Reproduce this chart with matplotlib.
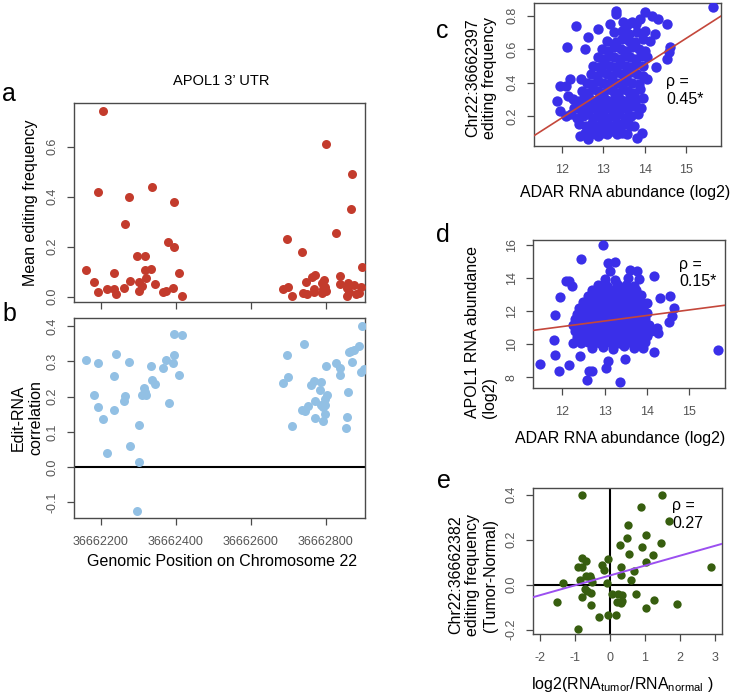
import matplotlib
matplotlib.use("Agg")
import matplotlib.pyplot as plt

plt.rcParams["font.family"] = ["Liberation Sans", "DejaVu Sans"]
plt.rcParams["axes.unicode_minus"] = False

W, H = 734, 695

# ---- panel a: mean editing frequency along APOL1 3' UTR
a_pos = [36662206, 36662194, 36662337, 36662276, 36662396, 36662266, 36662380, 36662395,
         36662298, 36662317, 36662162, 36662317, 36662333, 36662236, 36662408, 36662320,
         36662181, 36662278, 36662301, 36662346, 36662310, 36662192, 36662217, 36662236,
         36662241, 36662263, 36662303, 36662365, 36662374, 36662394, 36662417,
         36662802, 36662869, 36662868, 36662827, 36662696, 36662738, 36662898, 36662771,
         36662763, 36662837, 36662747, 36662795, 36662791, 36662687, 36662699, 36662711,
         36662740, 36662751, 36662770, 36662770, 36662789, 36662794, 36662798, 36662801,
         36662839, 36662860, 36662856, 36662863, 36662858, 36662876, 36662893, 36662889,
         36662882]
a_freq = [0.743, 0.420, 0.440, 0.398, 0.378, 0.290, 0.219, 0.200,
          0.163, 0.163, 0.107, 0.108, 0.112, 0.096, 0.094, 0.076,
          0.060, 0.065, 0.058, 0.052, 0.044, 0.021, 0.032, 0.032,
          0.012, 0.037, 0.025, 0.021, 0.024, 0.037, 0.005,
          0.611, 0.490, 0.350, 0.254, 0.232, 0.179, 0.120, 0.087,
          0.078, 0.085, 0.058, 0.067, 0.056, 0.032, 0.040, 0.005,
          0.015, 0.010, 0.019, 0.030, 0.016, 0.032, 0.040, 0.024,
          0.050, 0.056, 0.035, 0.019, 0.005, 0.048, 0.040, 0.014,
          0.010]

# ---- panel b: edit-RNA correlation
b_pos = [36662162, 36662194, 36662241, 36662275, 36662236, 36662181, 36662192, 36662205,
         36662235, 36662263, 36662266, 36662302, 36662277, 36662217, 36662302, 36662298,
         36662310, 36662316, 36662321, 36662319, 36662333, 36662337, 36662346, 36662365,
         36662373, 36662381, 36662394, 36662395, 36662396, 36662418, 36662408,
         36662685, 36662700, 36662696, 36662741, 36662711, 36662738, 36662745, 36662752,
         36662762, 36662769, 36662788, 36662786, 36662771, 36662772, 36662787, 36662794,
         36662797, 36662803, 36662799, 36662797, 36662792, 36662802, 36662827, 36662838,
         36662837, 36662860, 36662858, 36662855, 36662870, 36662861, 36662867, 36662875,
         36662889, 36662898, 36662895, 36662902]
b_corr = [0.305, 0.296, 0.321, 0.299, 0.259, 0.206, 0.170, 0.136,
          0.163, 0.188, 0.202, 0.120, 0.059, 0.039, 0.015, -0.125,
          0.206, 0.224, 0.206, 0.212, 0.286, 0.248, 0.237, 0.280,
          0.303, 0.181, 0.296, 0.318, 0.379, 0.376, 0.262,
          0.240, 0.255, 0.318, 0.350, 0.118, 0.163, 0.159, 0.173,
          0.232, 0.245, 0.241, 0.219, 0.187, 0.139, 0.175, 0.170,
          0.194, 0.206, 0.175, 0.151, 0.130, 0.286, 0.295, 0.282,
          0.260, 0.214, 0.143, 0.112, 0.297, 0.326, 0.330, 0.331,
          0.343, 0.400, 0.269, 0.279]

# ---- panel c: ADAR abundance vs editing at Chr22:36662397 (estimated from the blob)
c_points = [
    (15.66, 0.85), (13.31, 0.83), (13.31, 0.81), (14.01, 0.82), (14.17, 0.80), (14.33, 0.78),
    (13.89, 0.78), (12.34, 0.74), (13.16, 0.75), (13.48, 0.76), (13.60, 0.75), (13.70, 0.76),
    (13.80, 0.75), (14.53, 0.75), (12.88, 0.72), (14.25, 0.69), (13.56, 0.70), (12.64, 0.67),
    (12.13, 0.61), (12.56, 0.60), (14.61, 0.61), (14.60, 0.58), (14.53, 0.54), (14.27, 0.49),
    (14.06, 0.42), (12.19, 0.42), (12.46, 0.42), (11.94, 0.38), (12.09, 0.38), (11.88, 0.29),
    (11.94, 0.23), (12.15, 0.32), (12.09, 0.20), (12.44, 0.08), (12.64, 0.06), (13.81, 0.07),
    (13.93, 0.10), (13.65, 0.14), (13.04, 0.12),
    (12.55, 0.10), (12.70, 0.09), (12.78, 0.11), (12.88, 0.08), (12.97, 0.10), (13.10, 0.09),
    (13.20, 0.11), (13.32, 0.09), (13.45, 0.10), (13.58, 0.09),
    (12.42, 0.15), (12.58, 0.14), (12.72, 0.16), (12.86, 0.14), (12.96, 0.16), (13.08, 0.15),
    (13.20, 0.14), (13.34, 0.16), (13.48, 0.15), (13.60, 0.16), (13.74, 0.14),
    (12.22, 0.21), (12.36, 0.19), (12.50, 0.20), (12.62, 0.21), (12.76, 0.19), (12.88, 0.20),
    (13.00, 0.21), (13.12, 0.19), (13.24, 0.20), (13.38, 0.21), (13.52, 0.19), (13.66, 0.20),
    (13.84, 0.21),
    (12.30, 0.25), (12.44, 0.24), (12.58, 0.26), (12.70, 0.25), (12.82, 0.24), (12.94, 0.26),
    (13.06, 0.25), (13.18, 0.24), (13.30, 0.26), (13.44, 0.25), (13.58, 0.24), (13.72, 0.26),
    (13.90, 0.25),
    (12.26, 0.30), (12.40, 0.29), (12.54, 0.31), (12.68, 0.30), (12.80, 0.29), (12.92, 0.31),
    (13.04, 0.30), (13.16, 0.29), (13.28, 0.31), (13.40, 0.30), (13.52, 0.29), (13.64, 0.31),
    (13.80, 0.30), (13.96, 0.31),
    (12.48, 0.35), (12.62, 0.34), (12.76, 0.36), (12.88, 0.35), (13.00, 0.34), (13.12, 0.36),
    (13.24, 0.35), (13.36, 0.34), (13.48, 0.36), (13.60, 0.35), (13.74, 0.34), (13.88, 0.36),
    (12.60, 0.40), (12.72, 0.39), (12.86, 0.41), (12.98, 0.40), (13.10, 0.39), (13.22, 0.41),
    (13.34, 0.40), (13.46, 0.39), (13.58, 0.41), (13.70, 0.40), (13.86, 0.39),
    (12.70, 0.45), (12.84, 0.44), (12.96, 0.46), (13.08, 0.45), (13.20, 0.44), (13.32, 0.46),
    (13.44, 0.45), (13.56, 0.44), (13.68, 0.46), (13.82, 0.45), (13.96, 0.44),
    (12.76, 0.50), (12.90, 0.49), (13.04, 0.51), (13.16, 0.50), (13.28, 0.49), (13.40, 0.51),
    (13.54, 0.50), (13.66, 0.49), (13.80, 0.51), (13.96, 0.50),
    (12.86, 0.55), (13.00, 0.54), (13.14, 0.56), (13.26, 0.55), (13.40, 0.54), (13.52, 0.56),
    (13.64, 0.55), (13.78, 0.54), (13.92, 0.56), (14.06, 0.55),
    (12.96, 0.60), (13.12, 0.59), (13.26, 0.61), (13.42, 0.60), (13.56, 0.59), (13.70, 0.61),
    (13.86, 0.60), (14.02, 0.59),
    (13.10, 0.65), (13.30, 0.64), (13.46, 0.66), (13.62, 0.65), (13.76, 0.64), (13.96, 0.66),
    (14.12, 0.65),
    (13.26, 0.70), (13.46, 0.71), (13.62, 0.69), (13.82, 0.70), (14.02, 0.71),
    (12.66, 0.125), (12.92, 0.125), (13.16, 0.125), (13.40, 0.125), (12.48, 0.275),
    (12.74, 0.275), (13.00, 0.275), (13.24, 0.275), (13.50, 0.275), (13.76, 0.275),
]
c_fit = (-1.708, 0.1581)   # intercept, slope

# ---- panel d: ADAR abundance vs APOL1 abundance
d_points = [
    (12.95, 16.00), (12.45, 15.14), (13.09, 14.93), (13.25, 15.00), (13.13, 14.45), (13.59, 14.49),
    (13.77, 14.45), (14.16, 14.13), (12.08, 13.85), (12.16, 13.83), (12.23, 13.55), (14.54, 12.94),
    (14.30, 12.82), (11.94, 12.84), (14.63, 12.18), (14.60, 11.68), (14.52, 11.34), (11.84, 11.78),
    (15.67, 9.67), (11.48, 8.80), (11.80, 10.27), (11.82, 9.37), (11.92, 8.36), (12.17, 8.76),
    (12.59, 7.86), (12.63, 8.40), (12.70, 8.40), (13.03, 8.56), (13.37, 7.70), (13.48, 9.10),
    (13.09, 9.00), (14.16, 9.53), (14.24, 10.97), (14.27, 10.67), (12.43, 9.27), (13.91, 9.77),
    (12.70, 9.75), (12.95, 9.85), (13.20, 9.70), (13.45, 9.90), (13.70, 9.80),
    (12.25, 10.10), (12.45, 10.05), (12.60, 10.15), (12.75, 10.10), (12.90, 10.05), (13.05, 10.15),
    (13.20, 10.10), (13.35, 10.05), (13.50, 10.15), (13.65, 10.10), (13.80, 10.05), (13.95, 10.15),
    (12.35, 10.45), (12.50, 10.40), (12.65, 10.50), (12.80, 10.45), (12.95, 10.40), (13.10, 10.50),
    (13.25, 10.45), (13.40, 10.40), (13.55, 10.50), (13.70, 10.45), (13.85, 10.40), (14.00, 10.50),
    (12.30, 10.80), (12.45, 10.75), (12.60, 10.85), (12.75, 10.80), (12.90, 10.75), (13.05, 10.85),
    (13.20, 10.80), (13.35, 10.75), (13.50, 10.85), (13.65, 10.80), (13.80, 10.75), (13.95, 10.85),
    (14.10, 10.80),
    (12.25, 11.15), (12.40, 11.10), (12.55, 11.20), (12.70, 11.15), (12.85, 11.10), (13.00, 11.20),
    (13.15, 11.15), (13.30, 11.10), (13.45, 11.20), (13.60, 11.15), (13.75, 11.10), (13.90, 11.20),
    (14.05, 11.15),
    (12.30, 11.50), (12.45, 11.45), (12.60, 11.55), (12.75, 11.50), (12.90, 11.45), (13.05, 11.55),
    (13.20, 11.50), (13.35, 11.45), (13.50, 11.55), (13.65, 11.50), (13.80, 11.45), (13.95, 11.55),
    (12.35, 11.85), (12.50, 11.80), (12.65, 11.90), (12.80, 11.85), (12.95, 11.80), (13.10, 11.90),
    (13.25, 11.85), (13.40, 11.80), (13.55, 11.90), (13.70, 11.85), (13.85, 11.80), (14.00, 11.90),
    (12.40, 12.20), (12.55, 12.15), (12.70, 12.25), (12.85, 12.20), (13.00, 12.15), (13.15, 12.25),
    (13.30, 12.20), (13.45, 12.15), (13.60, 12.25), (13.75, 12.20), (13.90, 12.15),
    (12.50, 12.55), (12.65, 12.50), (12.80, 12.60), (12.95, 12.55), (13.10, 12.50), (13.25, 12.60),
    (13.40, 12.55), (13.55, 12.50), (13.70, 12.60), (13.85, 12.55), (14.00, 12.50),
    (12.60, 12.90), (12.80, 12.85), (12.95, 12.95), (13.10, 12.90), (13.25, 12.85), (13.40, 12.95),
    (13.55, 12.90), (13.70, 12.85), (13.85, 12.95),
    (12.70, 13.25), (12.90, 13.20), (13.05, 13.30), (13.20, 13.25), (13.40, 13.20), (13.60, 13.30),
    (13.75, 13.25),
    (12.85, 13.60), (13.05, 13.55), (13.30, 13.65), (13.50, 13.60), (13.70, 13.55),
    (13.00, 13.95), (13.25, 13.90), (13.55, 14.00), (13.80, 13.95),
]
d_fit = (7.045, 0.3355)

# ---- panel e: tumor-normal change
e_logratio = [-0.79, 1.48, 0.88, 1.70, 0.53, 1.03, 0.48, 0.29, 0.91, 1.46, 0.55, 1.23, 2.90,
              1.02, -0.80, -0.69, -0.91, -0.79, -0.22, -0.16, -0.05, 0.32, 0.69, -0.67, -0.57,
              -0.55, -0.50, -0.84, -1.34, 0.31, 0.60, -0.08, -0.70, -0.64, -0.55, 0.05, 0.24,
              0.36, 0.75, -1.51, -0.79, -0.53, 0.21, 0.31, 0.35, 1.26, 1.92, 1.02, -0.05, 0.17,
              -0.31, -0.90]
e_dedit = [0.400, 0.397, 0.344, 0.284, 0.267, 0.219, 0.207, 0.175, 0.167, 0.185, 0.138, 0.133,
           0.079, 0.101, 0.121, 0.104, 0.081, 0.077, 0.089, 0.067, 0.116, 0.081, 0.062, 0.041,
           0.037, 0.027, 0.012, 0.022, 0.007, 0.044, 0.022, 0.007, -0.018, -0.030, -0.037,
           -0.041, -0.041, -0.044, -0.039, -0.077, -0.055, -0.092, -0.077, -0.081, -0.074,
           -0.070, -0.084, -0.105, -0.133, -0.133, -0.145, -0.196]
e_fit = (0.041, 0.044)

RED = "#c33b2c"
LIGHTBLUE = "#92c0e4"
BLUE = "#3a2fe9"
GREEN = "#375e0f"
FITRED = "#c4473b"
PURPLE = "#9b4ff0"


def axes_px(left, top, right, bottom):
    return [left / W, 1 - bottom / H, (right - left) / W, (bottom - top) / H]


def r_style(ax):
    for s in ax.spines.values():
        s.set_color("#4a4a4a")
        s.set_linewidth(1.0)
    ax.tick_params(direction="out", length=5, width=0.9, color="#4a4a4a",
                   labelcolor="#555555", labelsize=9, pad=6)
    ax.tick_params(axis="y", labelrotation=90)
    for lab in ax.get_yticklabels():
        lab.set_va("center")


def ftext(px, py, s, **kw):
    fig.text(px / W, 1 - py / H, s, **kw)


fig = plt.figure(figsize=(W / 100, H / 100), dpi=100)

# a
ax_a = fig.add_axes(axes_px(74, 103, 365, 302))
ax_a.scatter(a_pos, a_freq, s=42, color=RED, linewidths=0, zorder=3)
ax_a.set_xlim(36662129, 36662905)
ax_a.set_ylim(-0.021, 0.775)
ax_a.set_xticks([36662200, 36662400, 36662600, 36662800])
ax_a.set_xticklabels([])
ax_a.set_yticks([0.0, 0.2, 0.4, 0.6])
ax_a.set_yticklabels(["0.0", "0.2", "0.4", "0.6"])
r_style(ax_a)
ax_a.set_ylabel("Mean editing frequency", fontsize=11.5, labelpad=6)

# b
ax_b = fig.add_axes(axes_px(74, 318, 365, 518))
ax_b.scatter(b_pos, b_corr, s=42, color=LIGHTBLUE, linewidths=0, zorder=3)
ax_b.axhline(0, color="black", lw=1.5, zorder=2)
ax_b.set_xlim(36662129, 36662905)
ax_b.set_ylim(-0.144, 0.423)
ax_b.set_xticks([36662200, 36662400, 36662600, 36662800])
ax_b.set_xticklabels(["36662200", "36662400", "36662600", "36662800"])
ax_b.set_yticks([-0.1, 0.0, 0.1, 0.2, 0.3, 0.4])
ax_b.set_yticklabels(["-0.1", "0.0", "0.1", "0.2", "0.3", "0.4"])
r_style(ax_b)
ax_b.tick_params(axis="x", pad=8)

# c
c_x = [p[0] for p in c_points]
c_y = [p[1] for p in c_points]
ax_c = fig.add_axes(axes_px(534, 3, 721, 146))
ax_c.scatter(c_x, c_y, s=56, color=BLUE, linewidths=0, zorder=3)
ax_c.axline((0, c_fit[0]), slope=c_fit[1], color=FITRED, lw=1.2, zorder=4)
ax_c.set_xlim(11.32, 15.85)
ax_c.set_ylim(0.02, 0.876)
ax_c.set_xticks([12, 13, 14, 15])
ax_c.set_yticks([0.2, 0.4, 0.6, 0.8])
ax_c.set_yticklabels(["0.2", "0.4", "0.6", "0.8"])
r_style(ax_c)
ax_c.tick_params(axis="x", pad=8)
ax_c.text(14.52, 0.45, "ρ =\n0.45*", fontsize=11.5, va="top", ha="left")

# d
d_x = [p[0] for p in d_points]
d_y = [p[1] for p in d_points]
ax_d = fig.add_axes(axes_px(533, 240, 725, 388))
ax_d.scatter(d_x, d_y, s=54, color=BLUE, linewidths=0, zorder=3)
ax_d.axline((0, d_fit[0]), slope=d_fit[1], color=FITRED, lw=1.2, zorder=4)
ax_d.set_xlim(11.31, 15.84)
ax_d.set_ylim(7.36, 16.3)
ax_d.set_xticks([12, 13, 14, 15])
ax_d.set_yticks([8, 10, 12, 14, 16])
r_style(ax_d)
ax_d.tick_params(axis="x", pad=8)
ax_d.text(14.76, 15.3, "ρ =\n0.15*", fontsize=11.5, va="top", ha="left")

# e
ax_e = fig.add_axes(axes_px(533, 488, 722, 634))
ax_e.scatter(e_logratio, e_dedit, s=36, color=GREEN, linewidths=0, zorder=3)
ax_e.axhline(0, color="black", lw=1.5, zorder=2)
ax_e.axvline(0, color="black", lw=1.5, zorder=2)
ax_e.axline((0, e_fit[0]), slope=e_fit[1], color=PURPLE, lw=1.4, zorder=4)
ax_e.set_xlim(-2.19, 3.2)
ax_e.set_ylim(-0.219, 0.43)
ax_e.set_xticks([-2, -1, 0, 1, 2, 3])
ax_e.set_yticks([-0.2, 0.0, 0.2, 0.4])
ax_e.set_yticklabels(["-0.2", "0.0", "0.2", "0.4"])
r_style(ax_e)
ax_e.tick_params(axis="x", pad=8)
ax_e.text(1.78, 0.385, "ρ =\n0.27", fontsize=11.5, va="top", ha="left")

# figure-level text: panel letters, title, axis labels
for letter, px, py in [("a", 9, 94), ("b", 9, 314), ("c", 442, 31), ("d", 443, 235), ("e", 444, 481)]:
    ftext(px, py, letter, fontsize=18, ha="center", va="center")

ftext(221, 81, "APOL1 3\u2019 UTR", fontsize=10.5, ha="center", va="center")
ftext(27, 418, "Edit-RNA\ncorrelation", fontsize=11.5, rotation=90, ha="center", va="center")
ftext(222, 562, "Genomic Position on Chromosome 22", fontsize=11.5, ha="center", va="center")

ftext(481, 78, "Chr22:36662397\nediting frequency", fontsize=11.5, rotation=90,
      ha="center", va="center")
ftext(625, 192, "ADAR RNA abundance (log2)", fontsize=11.5, ha="center", va="center")

ftext(481, 332, "APOL1 RNA abundance\n(log2)", fontsize=11.5, rotation=90,
      ha="center", va="center", multialignment="left")
ftext(620, 438, "ADAR RNA abundance (log2)", fontsize=11.5, ha="center", va="center")

ftext(473, 575, "Chr22:36662382\nediting frequency\n(Tumor-Normal)", fontsize=11.5,
      rotation=90, ha="center", va="center")
ftext(622, 684, r"log2(RNA$_{\mathregular{tumor}}$/RNA$_{\mathregular{normal}}$ )",
      fontsize=11.5, ha="center", va="center")

fig.savefig("out.png", dpi=100)
